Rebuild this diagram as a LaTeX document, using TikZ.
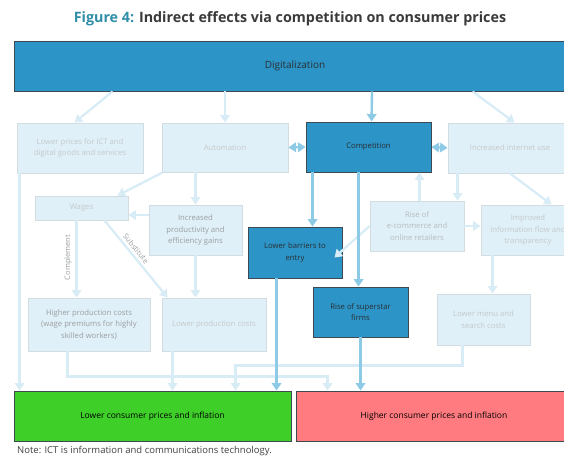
\documentclass[tikz,border=0pt]{standalone}
\usepackage{fontspec}
\setmainfont{Open Sans}
\usetikzlibrary{arrows.meta,calc}
\definecolor{dblue}{HTML}{2C94C7}
\definecolor{dborder}{HTML}{3E4A52}
\definecolor{dtext}{HTML}{2A2F33}
\definecolor{lfill}{HTML}{DFF0F8}
\definecolor{lborder}{HTML}{D2DCE1}
\definecolor{ltext}{HTML}{C6C9CB}
\definecolor{gtext}{HTML}{9C9FA1}
\definecolor{etext}{HTML}{B9BCBE}
\definecolor{lline}{HTML}{D8ECF6}
\definecolor{mline}{HTML}{8DCAE6}
\definecolor{gbox}{HTML}{3ECF29}
\definecolor{rbox}{HTML}{FF7B7F}
\definecolor{teal4}{HTML}{2F8EA8}
\definecolor{ttext}{HTML}{3A3A3A}
\definecolor{ntext}{HTML}{404040}
\begin{document}
\begin{tikzpicture}[x=1pt,y=-1pt,
  box/.style={rectangle, draw, line width=0.9pt, inner sep=2pt, align=center,
    font=\fontsize{7.7}{11.5}\selectfont},
  dbox/.style={box, fill=dblue, draw=dborder, text=dtext},
  lbox/.style={box, fill=lfill, draw=lborder, text=ltext},
  bigbox/.style={box, draw=dborder, text=black, font=\fontsize{8.5}{11}\selectfont},
  tip/.tip={Triangle[width=9.5pt,length=7.5pt]},
  la/.style={draw=lline, line width=2.2pt, -tip},
  ma/.style={draw=mline, line width=2.4pt, -tip},
  mda/.style={draw=mline, line width=2.4pt, tip-tip},
  lbl/.style={font=\fontsize{7.5}{8}\selectfont, text=gtext, inner sep=1.5pt}
]
\useasboundingbox (0,0) rectangle (564,456);
\clip (0,0) rectangle (564,456);
\fill[white] (0,0) rectangle (564,456);

% title
\node[font=\fontsize{14.3}{17}\selectfont\bfseries, text=ttext] (title) at (290,19)
  {\textcolor{teal4}{Figure 4:} Indirect effects via competition on consumer prices};

% boxes
\node[dbox, font=\fontsize{10}{12}\selectfont, minimum width=562pt, minimum height=50pt] (dig) at (295,66) {Digitalization};

\node[lbox, minimum width=126pt, minimum height=50pt] (ict) at (80,148) {Lower prices for ICT and\\digital goods and services};
\node[lbox, minimum width=126pt, minimum height=49pt] (auto) at (225,147.5) {Automation};
\node[dbox, minimum width=125pt, minimum height=50pt] (comp) at (368.5,147) {Competition};
\node[lbox, minimum width=124pt, minimum height=50pt] (inet) at (510,148) {Increased internet use};

\node[lbox, minimum width=93pt, minimum height=24pt] (wages) at (81.5,208) {Wages};
\node[lbox, text=gtext, minimum width=93pt, minimum height=50pt] (prod) at (195.5,230) {Increased\\productivity and\\efficiency gains};
\node[dbox, minimum width=94pt, minimum height=51pt] (barr) at (295,252.5) {Lower barriers to\\entry};
\node[lbox, text=etext, minimum width=94pt, minimum height=50pt] (ecom) at (417,226) {Rise of\\e-commerce and\\online retailers};
\node[lbox, minimum width=94pt, minimum height=50pt] (info) at (528,230) {Improved\\information flow and\\transparency};

\node[dbox, minimum width=95pt, minimum height=50pt] (star) at (360.5,312) {Rise of superstar\\firms};
\node[lbox, minimum width=93pt, minimum height=51pt] (menu) at (483.5,319.5) {Lower menu and\\search costs};
\node[lbox, text=gtext, minimum width=122pt, minimum height=53pt] (hpc) at (89,324.5) {Higher production costs\\(wage premiums for highly\\skilled workers)};
\node[lbox, minimum width=104pt, minimum height=53pt] (lpc) at (214,324.5) {Lower production costs};

\node[bigbox, fill=gbox, minimum width=277pt, minimum height=50pt] (green) at (152.5,416) {Lower consumer prices and inflation};
\node[bigbox, fill=rbox, minimum width=276pt, minimum height=50pt] (red) at (434,416) {Higher consumer prices and inflation};

\node[anchor=west, font=\fontsize{9.5}{11}\selectfont, text=ntext, inner sep=0pt] (note) at (17,451)
  {Note: ICT is information and communications technology.};

% coordinates on box borders
\coordinate (c3) at ([xshift=50pt]ecom.north west);
\coordinate (c4) at ([xshift=10pt]inet.south west);
\coordinate (c5) at ([xshift=12pt]info.south west);
\coordinate (c6) at ([xshift=3pt]ict.south west);
\coordinate (c7) at ([xshift=40pt]hpc.south west);
\coordinate (c8) at ([xshift=11pt]lpc.south west);
\coordinate (c9) at ([xshift=26pt]menu.south west);
\coordinate (r1) at ([xshift=32pt]red.north west);
\coordinate (g1) at ([xshift=222pt]green.north west);
\coordinate (w1) at ([xshift=42pt]wages.south west);
\coordinate (c1) at ([xshift=7pt]comp.south west);
\coordinate (c2) at ([xshift=53pt]comp.south west);
\coordinate (c10) at ([xshift=29pt]barr.south west);

% light connectors
\draw[la] ([xshift=99pt]dig.south west) -- ([xshift=58pt]ict.north west);
\draw[la] (dig.south -| auto.north) -- (auto.north);
\draw[la] ([xshift=459pt]dig.south west) -- ([xshift=67pt]inet.north west);
\draw[la] ([xshift=1pt]auto.south west) -- ([xshift=83pt]wages.north west);
\draw[la] (auto.south -| prod.north) -- (prod.north);
\draw[la] ([yshift=15pt]prod.west) -- ([yshift=-7pt]wages.east);
\draw[la] (w1) -- (w1 |- hpc.north)
  node[lbl, pos=0.48, rotate=90, anchor=south, yshift=2pt] {Complement};
\draw[la] ([xshift=70pt]wages.south west) -- ([xshift=6pt]lpc.north west)
  node[lbl, pos=0.42, sloped, anchor=south, yshift=1pt] {Substitute};
\draw[la] (prod.south) -- (prod.south |- lpc.north);
\draw[la] (c3) -- (c3 |- comp.south);
\draw[la] (c4) -- (c4 |- ecom.north);
\draw[la] (inet.south) -- ([xshift=71pt]info.north west);
\draw[la] (ecom.east) -- (ecom.east -| info.west);
\draw[la] (ecom.west) -- ([xshift=-8pt,yshift=-5pt]barr.east);
\draw[la] (c5) -- (c5 |- menu.north);
\draw[la] (c6) -- (c6 |- green.north);
\draw[la] (c7) -- ++(0,25) -| (r1);
\draw[la] (c8) -- (c8 |- green.north);
\draw[la] (c9) -- ++(0,20) -| (g1);

% active connectors
\draw[ma] (dig.south -| comp.north) ++(3.5pt,0) -- ([xshift=66pt]comp.north west);
\draw[mda] (auto.east) -- (comp.west);
\draw[mda] (comp.east) -- (inet.west);
\draw[ma] (c1) -- (c1 |- barr.north);
\draw[ma] (c2) -- (c2 |- star.north);
\draw[ma] (c10) -- (c10 |- green.north);
\draw[ma] (star.south) -- (star.south |- red.north);
\end{tikzpicture}
\end{document}
